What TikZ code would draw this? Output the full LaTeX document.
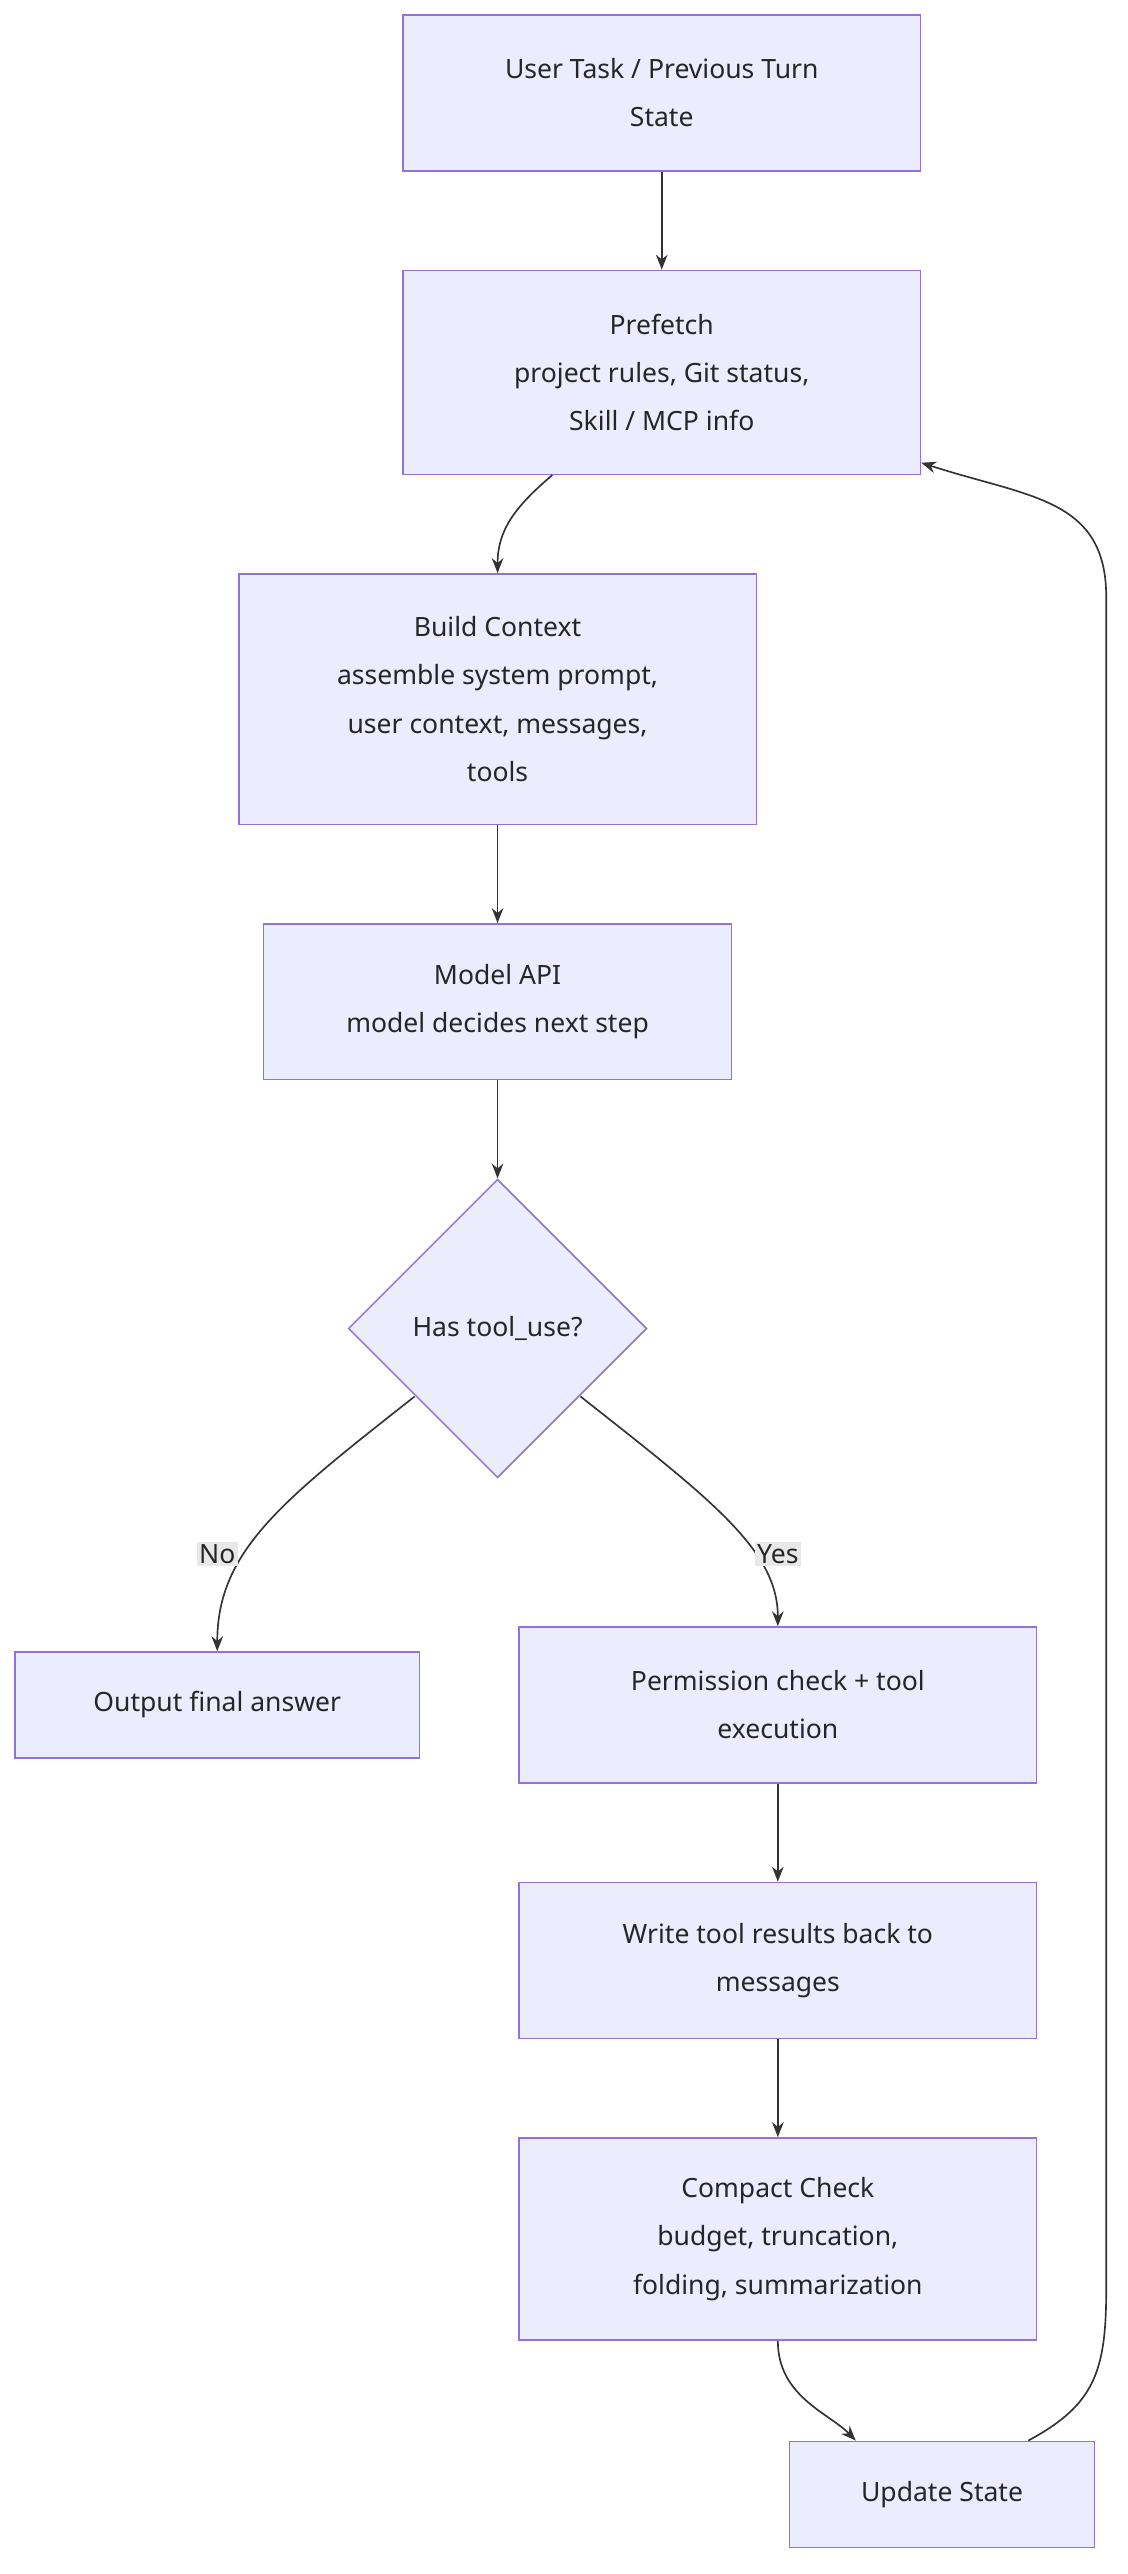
\documentclass[tikz,border=0pt]{standalone}
\usepackage{fontspec}
\setmainfont{Noto Sans}
\usetikzlibrary{shapes.geometric,arrows.meta}
\definecolor{bfill}{HTML}{ECECFF}
\definecolor{bdraw}{HTML}{9370DB}
\definecolor{edge}{HTML}{333333}
\definecolor{lbl}{HTML}{E8E8E8}
\begin{document}
\begin{tikzpicture}[x=1pt,y=-1pt,
  box/.style={draw=bdraw,fill=bfill,line width=0.9pt,align=center,inner sep=0pt,
    font=\fontsize{16}{29}\selectfont,text=black!85},
  dia/.style={diamond,draw=bdraw,fill=bfill,line width=0.9pt,inner sep=0pt,
    minimum width=180pt,minimum height=180pt,font=\fontsize{16}{29}\selectfont,text=black!85},
  arr/.style={draw=edge,line width=1pt,-{Stealth[length=9pt,width=7pt]}},
  lab/.style={fill=lbl,inner sep=1.5pt,font=\fontsize{16}{20}\selectfont,text=black!85}]
\useasboundingbox (0,0) rectangle (680,1552);
\node[box,minimum width=312pt,minimum height=94pt] (A) at (399,56) {User Task / Previous Turn\\State};
\node[box,minimum width=312pt,minimum height=123pt] (B) at (399,224.5) {Prefetch\\project rules, Git status,\\Skill / MCP info};
\node[box,minimum width=312pt,minimum height=151pt] (C) at (300,421.5) {Build Context\\assemble system prompt,\\user context, messages,\\tools};
\node[box,minimum width=282pt,minimum height=94pt] (D) at (300,604) {Model API\\model decides next step};
\node[dia] (E) at (300,801) {Has tool\_use?};
\node[box,minimum width=244pt,minimum height=64pt] (F) at (131,1028) {Output final answer};
\node[box,minimum width=312pt,minimum height=94pt] (G) at (469,1028) {Permission check + tool\\execution};
\node[box,minimum width=312pt,minimum height=94pt] (H) at (469,1182) {Write tool results back to\\messages};
\node[box,minimum width=312pt,minimum height=122pt] (I) at (469,1350) {Compact Check\\budget, truncation,\\folding, summarization};
\node[box,minimum width=184pt,minimum height=64pt] (J) at (568,1504) {Update State};
\draw[arr] (A) -- (B);
\draw[arr] (B.south -| 333,0) .. controls (310,306) and (300,320) .. (C.north);
\draw[arr] (C) -- (D);
\draw[arr] (D) -- (E);
\draw[arr] (250,842) .. controls (170,905) and (131,935) .. (F.north);
\draw[arr] (350,842) .. controls (430,905) and (469,935) .. (G.north);
\node[lab] (ln) at (131,937) {No};
\node[lab] (ly) at (469,937) {Yes};
\draw[arr] (G) -- (H);
\draw[arr] (H) -- (I);
\draw[arr] (I.south) .. controls (469,1445) and (500,1455) .. (J.north -| 516,0);
\draw[arr] (J.north -| 620,0) .. controls (660,1450) and (667,1430) .. (667,1380)
  -- (667,360) .. controls (667,300) and (620,300) .. (B.east |- 0,279);
\end{tikzpicture}
\end{document}
